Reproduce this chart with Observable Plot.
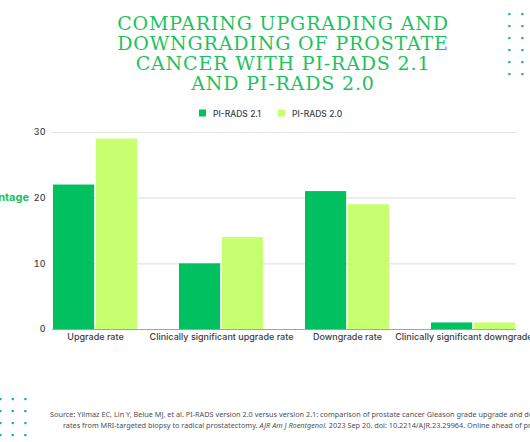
<!DOCTYPE html>
<html>
<head>
<meta charset="utf-8">
<script src="https://cdn.jsdelivr.net/npm/d3@7"></script>
<script src="https://cdn.jsdelivr.net/npm/@observablehq/plot@0.6"></script>
<style>
  html, body { margin: 0; padding: 0; background: #fff; overflow: hidden; width: 530px; height: 442px; }
</style>
</head>
<body>
<div id="chart"></div>
<script>
const categories = ["Upgrade rate", "Clinically significant upgrade rate", "Downgrade rate", "Clinically significant downgrade rate"];
const seriesNames = ["PI-RADS 2.1", "PI-RADS 2.0"];
const pirads21 = [22, 10, 21, 1];
const pirads20 = [29, 14, 19, 1];
const yTicks = [0, 10, 20, 30];
const titleLines = ["COMPARING UPGRADING AND", "DOWNGRADING OF PROSTATE", "CANCER WITH PI-RADS 2.1", "AND PI-RADS 2.0"];
const yLabel = "Percentage";
const sourceLine1 = "Source: Yilmaz EC, Lin Y, Belue MJ, et al. PI-RADS version 2.0 versus version 2.1: comparison of prostate cancer Gleason grade upgrade and downgrade";
const sourceLine2a = "rates from MRI-targeted biopsy to radical prostatectomy. ";
const sourceLine2b = "AJR Am J Roentgenol.";
const sourceLine2c = " 2023 Sep 20. doi: 10.2214/AJR.23.29964. Online ahead of print.";

const colors = ["#00c060", "#c6ff70"];
const green = "#1ec15f";
const dotColor = "#17a9a6";

const d21 = categories.map((c, i) => ({category: c, series: seriesNames[0], value: pirads21[i]}));
const d20 = categories.map((c, i) => ({category: c, series: seriesNames[1], value: pirads20[i]}));

const W = 530, ML = 52, MR = 14, padInner = 0.337;
const bandwidth = (W - ML - MR) / (categories.length - padInner) * (1 - padInner);
const half = bandwidth / 2;
const gap = 0.85;

const svg = Plot.plot({
  width: W,
  height: 442,
  marginTop: 132,
  marginBottom: 113,
  marginLeft: ML,
  marginRight: MR,
  style: {fontFamily: "Inter, sans-serif", fontSize: "9px", color: "#3a3f47", background: "white", overflow: "hidden"},
  x: {domain: categories, paddingInner: padInner, paddingOuter: 0, label: null, tickSize: 0, tickPadding: 4},
  y: {domain: [0, 30], ticks: yTicks, tickSize: 0, tickPadding: 7, label: null},
  color: {domain: seriesNames, range: colors},
  marks: [
    Plot.gridY(yTicks.filter(d => d > 0), {stroke: "#e3e3e3", strokeOpacity: 1, strokeWidth: 1.2}),
    Plot.barY(d21, {x: "category", y: "value", fill: "series", insetLeft: 0, insetRight: half + gap}),
    Plot.barY(d20, {x: "category", y: "value", fill: "series", insetLeft: half + gap, insetRight: 0}),
    Plot.ruleY([0], {stroke: "#a0a4aa", strokeWidth: 1})
  ]
});

document.getElementById("chart").appendChild(svg);
const s = d3.select(svg);
s.selectAll("g[aria-label='x-axis tick label'] text, g[aria-label='y-axis tick label'] text").style("font-weight", 500);

// Title
const t = s.append("g")
  .attr("text-anchor", "middle")
  .attr("fill", green)
  .style("font-family", "'DejaVu Serif', serif")
  .style("font-size", "19px")
  .style("letter-spacing", "0.85px");
titleLines.forEach((line, i) => {
  t.append("text").attr("x", 283).attr("y", 29.5 + i * 20).text(line);
});

// Legend
const legendX = [199, 278];
seriesNames.forEach((name, i) => {
  s.append("rect").attr("x", legendX[i]).attr("y", 109.5).attr("width", 7).attr("height", 7).attr("fill", colors[i]);
  s.append("text").attr("x", legendX[i] + 14).attr("y", 116.5).attr("text-anchor", "start")
    .attr("fill", "#3a3f47").style("font-family", "Inter, sans-serif").style("font-size", "8.5px").style("font-weight", 500)
    .text(name);
});

// Y label
s.append("text").attr("x", 29).attr("y", 197).attr("text-anchor", "end").attr("dy", "0.35em")
  .attr("fill", green).style("font-family", "Inter, sans-serif").style("font-size", "11px").style("font-weight", 700)
  .text(yLabel);

// Source
const src = s.append("g").attr("fill", "#4a4f55").attr("text-anchor", "start").style("font-family", "'Noto Sans', sans-serif").style("font-size", "7.3px");
src.append("text").attr("x", 50).attr("y", 416.5).text(sourceLine1);
const l2 = src.append("text").attr("x", 63).attr("y", 428);
l2.append("tspan").text(sourceLine2a);
l2.append("tspan").style("font-style", "italic").text(sourceLine2b);
l2.append("tspan").text(sourceLine2c);

// Decorative dots
const dots = s.append("g").attr("fill", dotColor);
for (let r = 0; r < 6; r++) for (const x of [509.3, 522.3]) dots.append("rect").attr("x", x - 1).attr("y", 14 + r * 12 - 1).attr("width", 2.2).attr("height", 2.2);
for (let r = 0; r < 4; r++) for (const x of [0.3, 12.7, 25.3]) dots.append("rect").attr("x", x - 1).attr("y", 399 + r * 12 - 1).attr("width", 2.2).attr("height", 2.2);
</script>
</body>
</html>
